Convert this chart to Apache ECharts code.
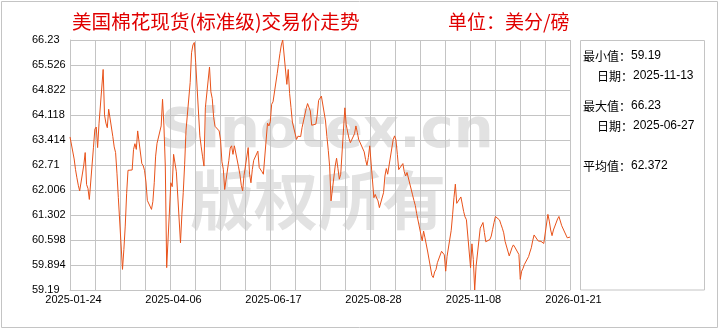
<!DOCTYPE html>
<html><head><meta charset="utf-8">
<script src="https://cdn.jsdelivr.net/npm/echarts@6/dist/echarts.min.js"></script>
<style>html,body{margin:0;padding:0;background:#fff}#c{width:720px;height:330px}</style>
</head><body><div id="c"></div>
<script>
const titleText = '美国棉花现货(标准级)交易价走势';
const unitText = '单位：美分/磅';
const startDate = '2025-01-24';
const endDate = '2026-01-21';
const xTickLabels = ['2025-01-24','2025-04-06','2025-06-17','2025-08-28','2025-11-08','2026-01-21'];
const yMin = 59.19, yMax = 66.23, yStep = 0.704;
const statLabels = ['最小值：', '日期：', '最大值：', '日期：', '平均值：'];
const statValues = ['59.19', '2025-11-13', '66.23', '2025-06-27', '62.372'];
// one value per weekday (trading day) from startDate to endDate, a row per week
const prices = [
  63.50,
  62.88,62.58,62.35,62.14,61.98,
  62.71,63.06,62.16,62.05,61.74,
  63.21,63.72,63.78,63.20,63.87,
  65.40,64.12,63.89,63.76,64.28,
  63.51,63.22,63.06,62.48,61.79,
  59.77,60.33,60.99,61.90,62.56,
  62.57,63.15,63.31,63.15,63.67,
  62.75,62.69,62.55,62.23,61.71,
  61.46,61.68,62.21,62.96,63.32,
  63.81,64.56,63.81,62.68,59.82,
  62.21,62.10,63.01,62.96,62.52,
  60.52,61.32,61.94,62.73,63.69,
  65.03,65.87,66.09,66.16,65.59,
  63.53,63.22,62.94,62.68,64.32,
  65.47,64.77,64.58,64.05,63.80,
  63.67,63.41,62.80,62.59,62.02,
  62.84,63.19,63.25,63.01,63.25,
  62.66,62.45,62.14,61.98,62.42,
  63.20,62.45,62.21,62.58,62.84,
  63.10,62.64,62.63,62.52,62.45,
  63.89,63.81,63.93,64.42,64.49,
  65.28,65.57,65.85,66.09,66.23,
  64.98,65.40,64.72,64.33,63.92,
  63.43,63.52,63.48,63.51,63.76,
  64.30,64.44,64.42,64.23,63.83,
  63.86,64.12,64.53,64.51,64.65,
  63.95,63.51,63.12,62.66,61.70,
  62.68,62.90,62.61,62.31,62.45,
  64.32,63.84,63.64,63.46,63.34,
  63.59,63.81,63.63,63.43,63.48,
  63.08,62.86,62.70,62.92,63.25,
  61.79,61.88,61.78,61.70,61.51,
  61.93,62.40,62.61,62.45,62.42,
  63.43,63.53,63.41,63.01,62.58,
  62.75,62.52,62.40,62.50,62.54,
  61.87,61.71,61.57,61.34,61.30,
  60.57,60.85,60.66,60.66,60.26,
  59.60,59.54,59.70,59.77,59.96,
  60.28,60.24,60.18,59.72,60.14,
  60.87,61.31,61.79,62.17,61.63,
  61.81,61.61,61.40,61.25,61.17,
  59.82,60.49,60.05,59.19,59.85,
  60.93,60.90,61.09,60.81,60.55,
  60.61,60.71,60.90,61.09,61.26,
  61.16,61.04,60.93,60.80,60.56,
  60.15,60.26,60.38,60.46,60.40,
  60.19,59.49,59.72,59.80,59.91,
  60.13,60.26,60.38,60.58,60.74,
  60.57,60.59,60.56,60.51,60.50,
  61.32,61.13,60.88,60.72,60.88,
  61.19,61.26,61.21,61.00,60.95,
  60.66,60.66,60.68
];

function utc(s){ const p = s.split('-').map(Number); return Date.UTC(p[0], p[1]-1, p[2]); }
function iso(t){ return new Date(t).toISOString().slice(0,10); }
const DAY = 86400000;
const t0 = utc(startDate), t1 = utc(endDate);
const dates = [];
for (let t = t0; t <= t1; t += DAY) { const w = new Date(t).getUTCDay(); if (w !== 0 && w !== 6) dates.push(iso(t)); }
const span = (t1 - t0) / DAY;
const seriesData = dates.slice(0, prices.length).map((d, i) => [(utc(d) - t0) / DAY, prices[i]]);

const red = '#e00000';
const gray = '#c4c4c4';
const cjk = '"Noto Sans CJK SC", sans-serif';
const lat = '"Liberation Sans", Arial, sans-serif';

const chart = echarts.init(document.getElementById('c'), null, {renderer: 'canvas'});
const panelY = [56, 76, 106, 126, 166];
const panelX = [583, 597, 583, 597, 583];
const graphics = [
  {type: 'rect', z: 0, shape: {x: 1.5, y: 1.5, width: 716, height: 326}, style: {fill: 'none', stroke: gray, lineWidth: 1}},
  {type: 'rect', z: 0, shape: {x: 580.5, y: 40.5, width: 124, height: 249.5}, style: {fill: 'none', stroke: gray, lineWidth: 1}},
  {type: 'text', z: -5, style: {x: 0, y: 0, text: 'Sinotex.cn', font: 'bold 56px "DejaVu Sans"', fill: '#e2e2e2', textAlign: 'center', textVerticalAlign: 'middle'}, position: [327, 132]},
  {type: 'text', z: -5, style: {x: 0, y: 0, text: '版权所有', font: 'bold 64px ' + cjk, fill: '#e2e2e2', textAlign: 'center', textVerticalAlign: 'middle'}, position: [318, 200]},
  {type: 'text', z: 10, style: {x: 72, y: 22, text: titleText, font: '19.6px ' + cjk, fill: red, textVerticalAlign: 'middle'}},
  {type: 'text', z: 10, style: {x: 448, y: 22, text: unitText, font: '19px ' + cjk, fill: red, textVerticalAlign: 'middle'}}
];
statLabels.forEach((lb, i) => {
  graphics.push({type: 'text', z: 10, style: {x: panelX[i], y: panelY[i], text: lb, font: '12px ' + cjk, fill: '#000', textVerticalAlign: 'middle'}});
  graphics.push({type: 'text', z: 10, style: {x: panelX[i] + lb.length * 12, y: panelY[i], text: statValues[i], font: '12px ' + lat, fill: '#000', textVerticalAlign: 'middle'}});
});

chart.setOption({
  animation: false,
  backgroundColor: '#fff',
  grid: {left: 70, top: 40, width: 500, height: 250, containLabel: false},
  xAxis: {
    type: 'value', min: 0, max: span, interval: span / 20,
    axisLine: {show: true, lineStyle: {color: gray}},
    axisTick: {show: false},
    splitLine: {show: true, lineStyle: {color: gray, width: 1}},
    axisLabel: {
      show: true, interval: 0, showMinLabel: true, showMaxLabel: true, margin: 4,
      color: '#000', fontFamily: lat, fontSize: 11, padding: [0, 0, 0, 7],
      formatter: function (v) { const k = Math.round(v / (span / 20)); return k % 4 === 0 ? (xTickLabels[k / 4] || '') : ''; }
    }
  },
  yAxis: {
    type: 'value', min: yMin, max: yMax, interval: yStep,
    axisLine: {show: true, lineStyle: {color: gray}},
    axisTick: {show: false},
    splitLine: {show: true, lineStyle: {color: gray, width: 1}},
    axisLabel: {
      show: true, align: 'left', margin: 38, color: '#000', fontFamily: lat, fontSize: 11,
      padding: [0, 0, 13, 0],
      formatter: function (v) { return String(parseFloat(v.toFixed(3))); }
    }
  },
  graphic: graphics,
  series: [{
    type: 'line', data: seriesData, showSymbol: false, symbol: 'none', smooth: false,
    lineStyle: {color: '#e8521a', width: 1}, z: 5
  }]
});
</script></body></html>
